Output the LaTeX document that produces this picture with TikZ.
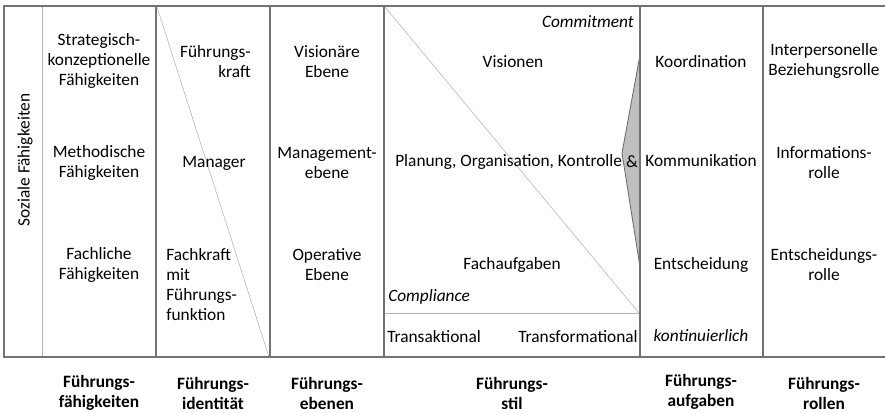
\documentclass[tikz,border=0pt]{standalone}
\usepackage{fontspec}
\setmainfont{Carlito}
\begin{document}
\begin{tikzpicture}[x=0.75pt,y=-0.75pt,
  frame/.style={draw=black!55,line width=1.1pt},
  thin/.style={draw=black!30,line width=0.4pt},
  txt/.style={font=\fontsize{13}{15}\selectfont,inner sep=0pt,align=center},
  head/.style={font=\fontsize{13}{15}\selectfont\bfseries,inner sep=0pt,align=center},
  it/.style={font=\fontsize{13}{15}\selectfont\itshape,inner sep=0pt}]
\useasboundingbox (0,0) rectangle (885,413);
\fill[white] (0,0) rectangle (885,413);
% thin guides
\draw[thin] (42,6) -- (42,357);
\draw[thin] (157,7) -- (269,357);
\draw[thin] (385,7) -- (639,313);
\draw[thin] (384,313) -- (640,313);
% grey wedge
\draw[fill=black!25,draw=black!60,line width=0.6pt] (640,55) -- (622,153) -- (640,267) -- cycle;
% frame
\draw[frame] (885,6) -- (4,6) -- (4,357) -- (885,357);
\foreach \x in {156,270,384,640,763} \draw[frame] (\x,6) -- (\x,357);
% column 0
\node[txt,rotate=90] (soz) at (25,160) {Soziale Fähigkeiten};
% column 1
\node[txt] (f1) at (99,61) {Strategisch-\\konzeptionelle\\Fähigkeiten};
\node[txt] (f2) at (99,163) {Methodische\\Fähigkeiten};
\node[txt] (f3) at (99,265) {Fachliche\\Fähigkeiten};
% column 2
\node[txt,align=right,anchor=east] (i1) at (251,62) {Führungs-\\kraft};
\node[txt] (i2) at (214,163) {Manager};
\node[txt,align=left,anchor=west] (i3) at (166,285) {Fachkraft\\mit\\Führungs-\\funktion};
% column 3
\node[txt] (e1) at (327,62) {Visionäre\\Ebene};
\node[txt] (e2) at (327,163) {Management-\\ebene};
\node[txt] (e3) at (327,265) {Operative\\Ebene};
% column 4
\node[it,anchor=east] (commit) at (634,22) {Commitment};
\node[txt] (s1) at (513,62) {Visionen};
\node[txt,anchor=west] (s2) at (395,162) {Planung, Organisation, Kontrolle};
\node[txt] (amp) at (632,162) {\&};
\node[txt] (s3) at (512,265) {Fachaufgaben};
\node[it,anchor=west] (compl) at (388,297) {Compliance};
\node[txt,anchor=west] (trans) at (387,337) {Transaktional};
\node[txt,anchor=east] (transf) at (638,337) {Transformational};
% column 5
\node[txt] (a1) at (701,62) {Koordination};
\node[txt] (a2) at (701,161) {Kommunikation};
\node[txt] (a3) at (701,265) {Entscheidung};
\node[it] (a4) at (701,336) {kontinuierlich};
% column 6
\node[txt] (r1) at (824,61) {Interpersonelle\\Beziehungsrolle};
\node[txt] (r2) at (824,163) {Informations-\\rolle};
\node[txt] (r3) at (824,265) {Entscheidungs-\\rolle};
% headings
\node[head] (h1) at (99,393) {Führungs-\\fähigkeiten};
\node[head] (h2) at (213,393) {Führungs-\\identität};
\node[head] (h3) at (327,393) {Führungs-\\ebenen};
\node[head] (h4) at (512,393) {Führungs-\\stil};
\node[head] (h5) at (701,392) {Führungs-\\aufgaben};
\node[head] (h6) at (824,393) {Führungs-\\rollen};
\end{tikzpicture}
\end{document}
